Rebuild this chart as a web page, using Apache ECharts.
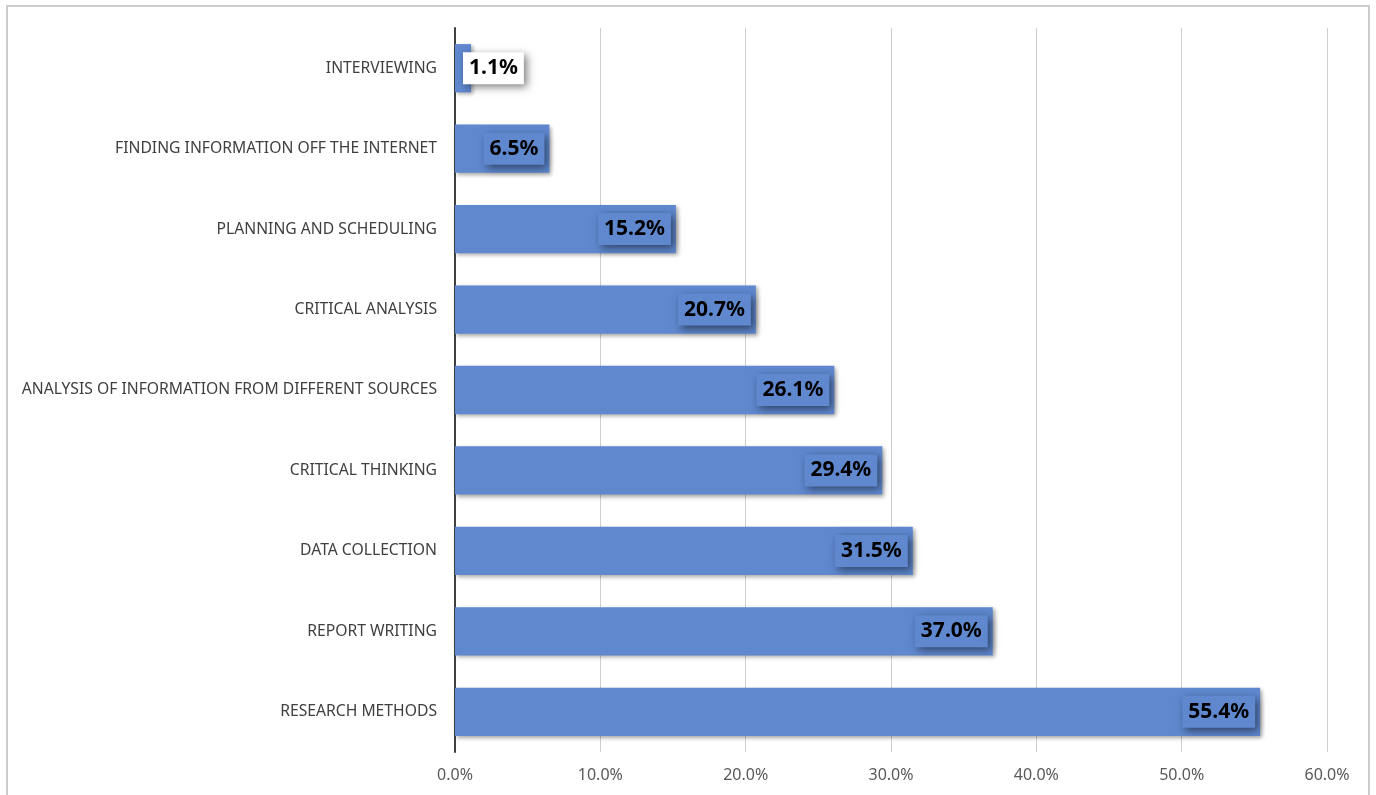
<!DOCTYPE html>
<html>
<head>
<meta charset="utf-8">
<script src="https://cdn.jsdelivr.net/npm/echarts@6/dist/echarts.min.js"></script>
<style>
  html, body { margin: 0; padding: 0; background: #fff; }
  #frame {
    position: absolute; left: 6px; top: 5px; width: 1364px; height: 800px;
    border: 2px solid #cccccc; box-sizing: border-box;
  }
  #chart { position: absolute; left: 0; top: 0; width: 1376px; height: 795px; }
</style>
</head>
<body>
<div id="frame"></div>
<div id="chart"></div>
<script>
// skills, top to bottom
const categories = [
  'INTERVIEWING',
  'FINDING INFORMATION OFF THE INTERNET',
  'PLANNING AND SCHEDULING',
  'CRITICAL ANALYSIS',
  'ANALYSIS OF INFORMATION FROM DIFFERENT SOURCES',
  'CRITICAL THINKING',
  'DATA COLLECTION',
  'REPORT WRITING',
  'RESEARCH METHODS'
]
const values = [1.1, 6.5, 15.2, 20.7, 26.1, 29.4, 31.5, 37.0, 55.4]
const xTicks = [0, 10, 20, 30, 40, 50, 60]

const barColor = '#5f88cf'
const font = '"Noto Sans", "Open Sans", sans-serif'

const chart = echarts.init(document.getElementById('chart'))

const labelBase = {
  show: true,
  position: 'insideRight',
  distance: 5,
  formatter: p => p.value.toFixed(1) + '%',
  color: '#000',
  fontWeight: 'bold',
  fontSize: 21,
  fontFamily: font,
  backgroundColor: barColor,
  padding: [6, 6, 5, 6],
  shadowColor: 'rgba(0,0,0,0.5)',
  shadowBlur: 8,
  shadowOffsetX: 3,
  shadowOffsetY: 3
}

const seriesData = values.map(v => {
  if (v < 3) {
    // too small to hold the label, Excel puts it on a white box
    return {
      value: v,
      label: { position: 'insideLeft', distance: 8, backgroundColor: '#fff' }
    }
  }
  return v
})

chart.setOption({
  animation: false,
  grid: { left: 455, right: 49, top: 28, bottom: 43 },
  xAxis: {
    type: 'value',
    min: xTicks[0],
    max: xTicks[xTicks.length - 1],
    interval: 10,
    axisLine: { show: false },
    axisTick: { show: false },
    splitLine: { show: true, lineStyle: { color: '#cfcfcf', width: 1 } },
    axisLabel: {
      margin: 15,
      color: '#595959',
      fontSize: 16,
      fontFamily: font,
      formatter: v => v.toFixed(1) + '%'
    }
  },
  yAxis: {
    type: 'category',
    inverse: true,
    data: categories,
    axisLine: { show: true, lineStyle: { color: '#404040', width: 2 } },
    axisTick: { show: false },
    axisLabel: {
      margin: 18,
      color: '#404040',
      fontSize: 15.7,
      fontFamily: font
    }
  },
  series: [
    {
      type: 'bar',
      data: seriesData,
      barCategoryGap: '40%',
      itemStyle: {
        color: barColor,
        shadowColor: 'rgba(0,0,0,0.35)',
        shadowBlur: 4,
        shadowOffsetX: 2,
        shadowOffsetY: 2
      },
      label: labelBase
    }
  ]
})
</script>
</body>
</html>
